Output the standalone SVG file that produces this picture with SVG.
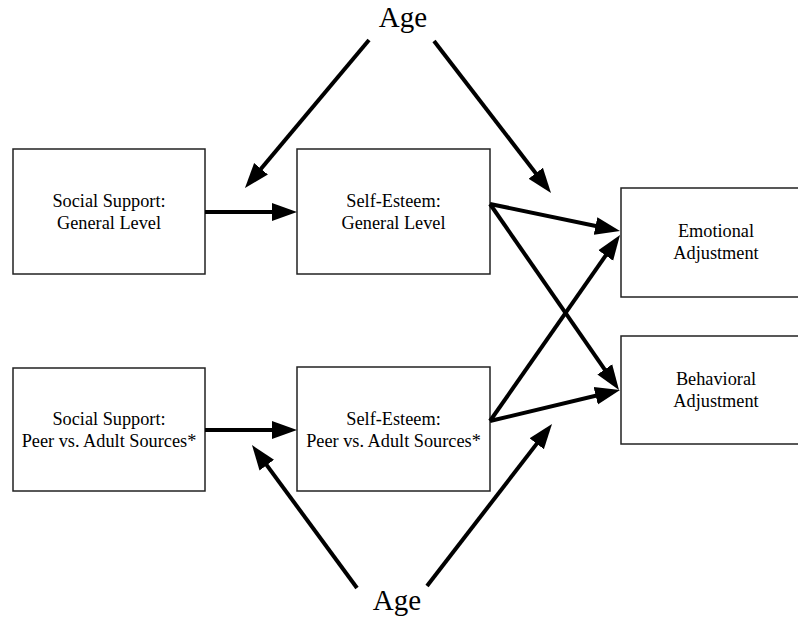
<svg xmlns="http://www.w3.org/2000/svg" width="798" height="617" viewBox="0 0 798 617">
<defs>
<marker id="ah" markerUnits="userSpaceOnUse" markerWidth="26" markerHeight="20" refX="15" refY="9" orient="auto" viewBox="0 0 26 18">
<path d="M0,0 L25,9 L0,18 z" fill="#000"/>
</marker>
<style>
.box{fill:#fff;stroke:#222;stroke-width:1.5}
.t{font-family:"Liberation Serif","Times New Roman",serif;font-size:18.3px;fill:#000;text-anchor:middle}
.age{font-family:"Liberation Serif","Times New Roman",serif;font-size:29px;fill:#000;text-anchor:middle}
.c{stroke:#000;stroke-width:4;fill:none;marker-end:url(#ah)}
</style>
</defs>
<rect width="798" height="617" fill="#fff"/>
<g id="age-top"><text class="age" x="403" y="27">Age</text></g>
<g id="age-bottom"><text class="age" x="397" y="610">Age</text></g>
<g id="ss-general"><rect class="box" x="13" y="149" width="192" height="125"/><text class="t" x="109" y="207">Social Support:</text><text class="t" x="109" y="229">General Level</text></g>
<g id="se-general"><rect class="box" x="297" y="149" width="193" height="125"/><text class="t" x="393.5" y="207">Self-Esteem:</text><text class="t" x="393.5" y="229">General Level</text></g>
<g id="ss-peer"><rect class="box" x="13" y="368" width="192" height="123"/><text class="t" x="109" y="425">Social Support:</text><text class="t" x="109" y="447">Peer vs. Adult Sources*</text></g>
<g id="se-peer"><rect class="box" x="297" y="367" width="193" height="124"/><text class="t" x="393.5" y="425">Self-Esteem:</text><text class="t" x="393.5" y="447">Peer vs. Adult Sources*</text></g>
<g id="emotional"><rect class="box" x="621" y="188" width="192" height="109"/><text class="t" x="716" y="237">Emotional</text><text class="t" x="716" y="259">Adjustment</text></g>
<g id="behavioral"><rect class="box" x="621" y="336" width="192" height="108"/><text class="t" x="716" y="385">Behavioral</text><text class="t" x="716" y="407">Adjustment</text></g>
<g id="connectors">
<line class="c" x1="205" y1="212" x2="287" y2="212"/>
<line class="c" x1="205" y1="430" x2="287" y2="430"/>
<line class="c" x1="369" y1="40" x2="251.4" y2="180.3"/>
<line class="c" x1="434" y1="41" x2="544.9" y2="185.1"/>
<line class="c" x1="490" y1="204" x2="610.2" y2="229"/>
<line class="c" x1="490" y1="204" x2="613.3" y2="381.8"/>
<line class="c" x1="490" y1="421" x2="614.3" y2="243.2"/>
<line class="c" x1="490" y1="421" x2="610.3" y2="392.3"/>
<line class="c" x1="357" y1="588" x2="257.9" y2="453.1"/>
<line class="c" x1="427" y1="586" x2="545.9" y2="431.9"/>
</g>
</svg>
